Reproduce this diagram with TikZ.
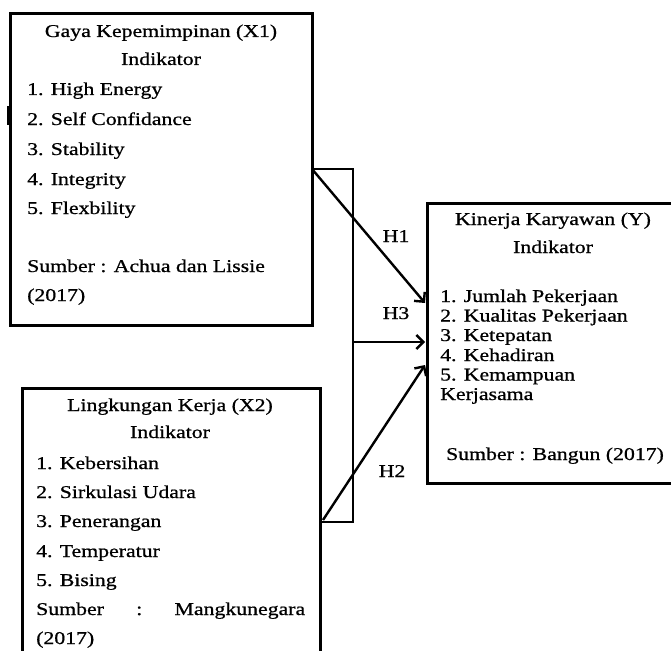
\documentclass[tikz,border=0pt]{standalone}
\usepackage{fontspec}
\setmainfont[FakeStretch=1.21,FakeBold=0.8]{Liberation Serif}
\usetikzlibrary{arrows.meta}
\begin{document}
\begin{tikzpicture}[x=1pt,y=-1pt,
  box/.style={draw,line width=3pt,inner sep=0pt},
  txt/.style={anchor=base west,inner sep=0pt,font=\fontsize{18}{20}\selectfont},
  ctxt/.style={anchor=base,inner sep=0pt,font=\fontsize{18}{20}\selectfont},
  conn/.style={line width=2.8pt},
  arr/.style={line width=2.4pt,-{Straight Barb[length=7pt,width=14pt,line width=2.4pt]}}]
\useasboundingbox (0,0) rectangle (671,650);
\fill[white] (0,0) rectangle (671,650);

% boxes
\node[box,minimum width=302pt,minimum height=311pt] (x1) at (161,169.5) {};
\node[box,minimum width=248pt,minimum height=280pt] (yb) at (551,343) {};
\node[box,minimum width=298pt,minimum height=272pt] (x2) at (171,524) {};
\fill (6.5,106) rectangle (10,125);

% X1 texts
\node[ctxt] (x1t) at (161,37) {Gaya Kepemimpinan (X1)};
\node[ctxt] (x1i) at (161,65) {Indikator};
\node[txt] (x1a) at (27,95) {1. High Energy};
\node[txt] (x1b) at (27,125) {2. Self Confidance};
\node[txt] (x1c) at (27,155) {3. Stability};
\node[txt] (x1d) at (27,185) {4. Integrity};
\node[txt] (x1e) at (27,214) {5. Flexbility};
\node[txt] (x1s) at (27,272) {Sumber : Achua dan Lissie};
\node[txt] (x1y) at (27,301) {(2017)};

% Y texts
\node[ctxt] (ybt) at (553,225) {Kinerja Karyawan (Y)};
\node[ctxt] (ybi) at (553,253) {Indikator};
\node[txt] (yba) at (440,302) {1. Jumlah Pekerjaan};
\node[txt] (ybb) at (440,321.5) {2. Kualitas Pekerjaan};
\node[txt] (ybc) at (440,341) {3. Ketepatan};
\node[txt] (ybd) at (440,361) {4. Kehadiran};
\node[txt] (ybe) at (440,380.5) {5. Kemampuan};
\node[txt] (ybf) at (440,400) {Kerjasama};
\node[ctxt] (ybs) at (555,460) {Sumber : Bangun (2017)};

% X2 texts
\node[ctxt] (x2t) at (170,411) {Lingkungan Kerja (X2)};
\node[ctxt] (x2i) at (170,438) {Indikator};
\node[txt] (x2a) at (36,469) {1. Kebersihan};
\node[txt] (x2b) at (36,498) {2. Sirkulasi Udara};
\node[txt] (x2c) at (36,527) {3. Penerangan};
\node[txt] (x2d) at (36,557) {4. Temperatur};
\node[txt] (x2e) at (36,586) {5. Bising};
\node[txt] (x2s) at (36,615) {\makebox[269pt][s]{Sumber\hfill:\hfill Mangkunegara}};
\node[txt] (x2y) at (36,644) {(2017)};

% bracket
\coordinate (bt) at (353,169);
\coordinate (bb) at (353,522);
\coordinate (s1) at (312,169);
\coordinate (s2) at (320,522);
\draw[conn] (s1) -- (bt) -- (bb) -- (s2);

% arrows
\coordinate (e1) at (425,303);
\coordinate (s3) at (353,342);
\coordinate (e3) at (425,342);
\coordinate (s4) at (323,520);
\coordinate (e4) at (425,365);
\draw[arr] (s1) -- (e1);
\draw[arr] (s3) -- (e3);
\draw[arr] (s4) -- (e4);

% labels
\node[ctxt] (h1) at (396,242) {H1};
\node[ctxt] (h3) at (396,319) {H3};
\node[ctxt] (h2) at (392,477) {H2};
\end{tikzpicture}
\end{document}
